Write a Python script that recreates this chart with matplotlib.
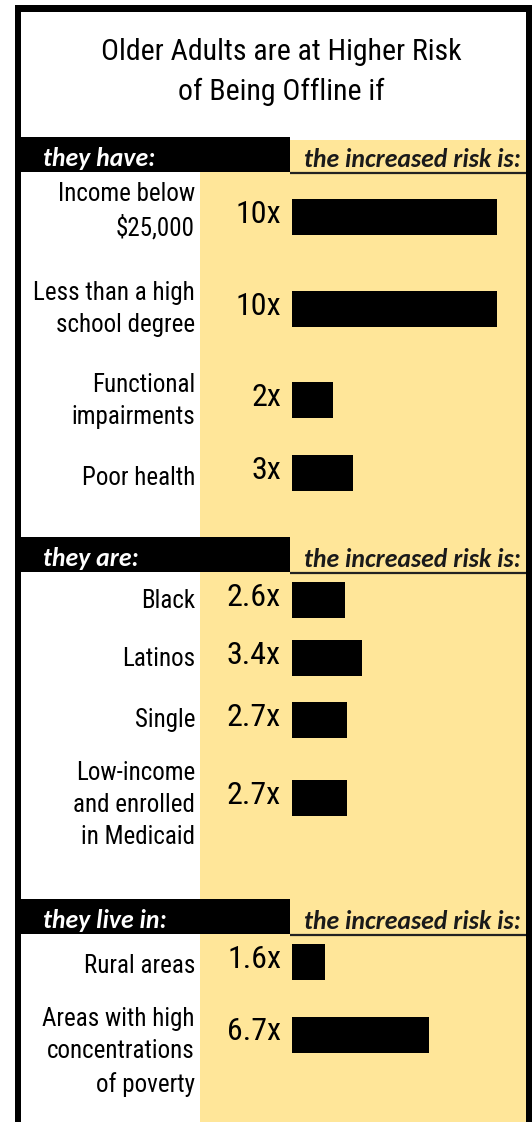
import matplotlib
matplotlib.use("Agg")
import matplotlib.pyplot as plt
from matplotlib import font_manager as fm
from matplotlib.patches import Rectangle

# data
title = "Older Adults are at Higher Risk\nof Being Offline if"
headers = ["they have:", "they are:", "they live in:"]
risk_header = "the increased risk is:"

labels1 = ["Income below\n$25,000", "Less than a high\nschool degree",
           "Functional\nimpairments", "Poor health"]
risk1 = [10, 10, 2, 3]
labels2 = ["Black", "Latinos", "Single", "Low-income\nand enrolled\nin Medicaid"]
risk2 = [2.6, 3.4, 2.7, 2.7]
labels3 = ["Rural areas", "Areas with high\nconcentrations\nof poverty"]
risk3 = [1.6, 6.7]

# layout (pixels, top = 0)
W, H = 532, 1122
header_y = [137, 537, 899]
bar_y = [[217, 309, 400, 473], [600, 658, 720, 798], [962, 1035]]
label_y = [[211, 309, 401, 478], [601, 659, 720, 805], [966, 1052]]
yellow = "#FFE699"
px_per_unit = 20.45
bar_x0 = 292


def pick(cands, fallback="DejaVu Sans"):
    avail = {f.name for f in fm.fontManager.ttflist}
    for c in cands:
        if c in avail:
            return [c, fallback]
    return [fallback]


cond = pick(["Roboto Condensed", "Archivo Narrow", "Liberation Sans Narrow",
             "Sofia Sans Condensed"])
calib = pick(["Carlito", "Lato", "Open Sans"])

fig = plt.figure(figsize=(W / 100, H / 100), dpi=100)
bg = fig.add_axes([0, 0, 1, 1])
bg.set_xlim(0, W)
bg.set_ylim(H, 0)
bg.axis("off")

# frame
bg.add_patch(Rectangle((15, 5), W - 15, H, color="black", lw=0))
bg.add_patch(Rectangle((21, 12), 505, H, color="white", lw=0))
bg.add_patch(Rectangle((200, header_y[0] + 35), 326, H, color=yellow, lw=0))

bg.text(281, 72, title, ha="center", va="center", fontsize=21.5,
        family=cond, linespacing=1.5, color="#000000")

for hy, ht in zip(header_y, headers):
    bg.add_patch(Rectangle((21, hy), 269, 35, color="black", lw=0))
    bg.add_patch(Rectangle((290, hy + 3), 236, 32, color=yellow, lw=0))
    bg.plot([290, 526], [hy + 36, hy + 36], color="#222222", lw=1.6,
            solid_capstyle="butt")
    bg.text(43, hy + 29, ht, ha="left", va="baseline", color="white",
            fontsize=18.5, family=calib, weight="bold", style="italic")
    bg.text(521, hy + 30, risk_header, ha="right", va="baseline", color="#1a1a1a",
            fontsize=18.5, family=calib, weight="bold", style="italic")

# bars in risk units
bx = fig.add_axes([bar_x0 / W, 0, 1 - bar_x0 / W, 1])
bx.set_xlim(0, (W - bar_x0) / px_per_unit)
bx.set_ylim(H, 0)
bx.axis("off")
bx.patch.set_alpha(0)

for labels, risks, by, ly in zip([labels1, labels2, labels3],
                                 [risk1, risk2, risk3], bar_y, label_y):
    bx.barh(by, risks, height=36, color="black", left=0)
    for lab, r, b, l in zip(labels, risks, by, ly):
        bg.text(195, l, lab, ha="right", va="center", fontsize=18,
                family=cond, linespacing=1.42, color="#000000")
        bg.text(281, b - 3, f"{r:g}x", ha="right", va="center", fontsize=23,
                family=cond, color="#000000")

fig.savefig("out.png", dpi=100)
